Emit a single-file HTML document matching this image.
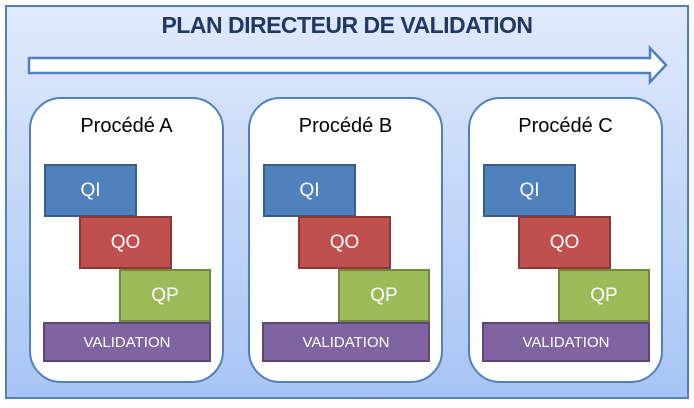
<!DOCTYPE html>
<html><head><meta charset="utf-8"><style>
body{margin:0;width:694px;height:408px;background:#fff;position:relative;overflow:hidden;font-family:"Liberation Sans",sans-serif}
.outer{position:absolute;left:5px;top:5px;width:680px;height:390px;border:2px solid #4f81bd;background:linear-gradient(#e0eafc,#a8c4f4)}
.title{position:absolute;left:0;top:12px;width:694px;text-align:center;font-weight:bold;font-size:23px;color:#1f3864;letter-spacing:-0.5px}
.proc{position:absolute;top:97px;width:191px;height:282px;border:2px solid #4f81bd;border-radius:32px;background:#fff}
.pt{position:absolute;top:115px;width:195px;text-align:center;font-size:20px;color:#000}
.b{position:absolute;box-sizing:border-box;border:2px solid;color:#fff;font-size:19px;display:flex;align-items:center;justify-content:center}
.qi{background:#4f81bd;border-color:#385d8a;width:93px;height:53px;top:164px}
.qo{background:#c0504d;border-color:#8c3836;width:93px;height:53px;top:216px}
.qp{background:#9bbb59;border-color:#71893f;width:92px;height:53px;top:269px}
.va{background:#8064a2;border-color:#5c4776;width:168px;height:40px;top:322px;font-size:15px}
</style></head><body>
<div class="outer"></div>
<div class="title">PLAN DIRECTEUR DE VALIDATION</div>
<svg style="position:absolute;left:0;top:0" width="694" height="408"><polygon points="29,58 650,58 650,48 666,65 650,82 650,73 29,73" fill="#fff" stroke="#4f81bd" stroke-width="2.5"/></svg>

<div class="proc" style="left:29px"></div>
<div class="pt" style="left:29px">Procédé A</div>
<div class="b qi" style="left:44px">QI</div>
<div class="b qo" style="left:79px">QO</div>
<div class="b qp" style="left:119px">QP</div>
<div class="b va" style="left:43px">VALIDATION</div>

<div class="proc" style="left:248px"></div>
<div class="pt" style="left:248px">Procédé B</div>
<div class="b qi" style="left:263px">QI</div>
<div class="b qo" style="left:298px">QO</div>
<div class="b qp" style="left:338px">QP</div>
<div class="b va" style="left:262px">VALIDATION</div>

<div class="proc" style="left:468px"></div>
<div class="pt" style="left:468px">Procédé C</div>
<div class="b qi" style="left:483px">QI</div>
<div class="b qo" style="left:518px">QO</div>
<div class="b qp" style="left:558px">QP</div>
<div class="b va" style="left:482px">VALIDATION</div>
</body></html>
